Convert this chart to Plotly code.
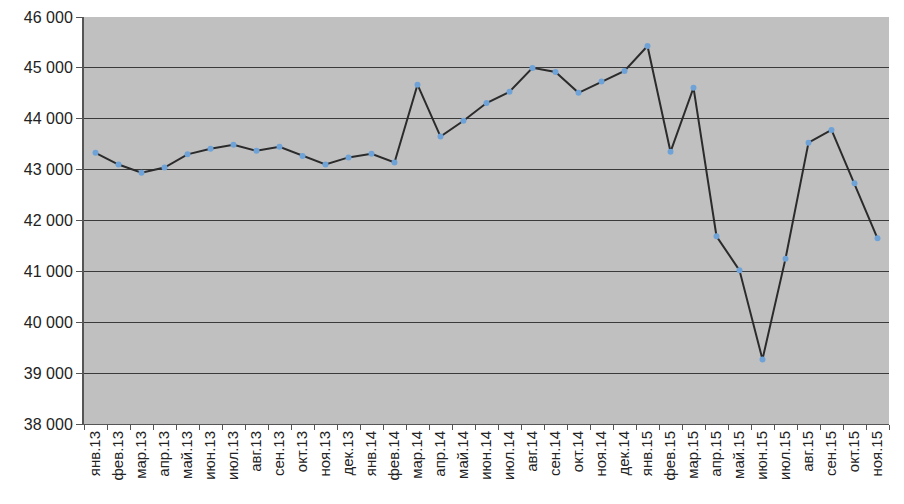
import plotly.graph_objects as go

months = ["янв.13", "фев.13", "мар.13", "апр.13", "май.13", "июн.13", "июл.13", "авг.13",
          "сен.13", "окт.13", "ноя.13", "дек.13", "янв.14", "фев.14", "мар.14", "апр.14",
          "май.14", "июн.14", "июл.14", "авг.14", "сен.14", "окт.14", "ноя.14", "дек.14",
          "янв.15", "фев.15", "мар.15", "апр.15", "май.15", "июн.15", "июл.15", "авг.15",
          "сен.15", "окт.15", "ноя.15"]
values = [43330, 43100, 42940, 43040, 43300, 43410, 43490, 43370,
          43450, 43270, 43100, 43240, 43310, 43140, 44670, 43650,
          43960, 44310, 44530, 45000, 44920, 44510, 44730, 44940,
          45430, 43350, 44610, 41690, 41020, 39270, 41250, 43530,
          43780, 42730, 41650]
y_ticks = [38000, 39000, 40000, 41000, 42000, 43000, 44000, 45000, 46000]
y_labels = [f"{v:,}".replace(",", " ") for v in y_ticks]

fig = go.Figure()
fig.add_trace(go.Scatter(
    x=months, y=values, mode="lines+markers",
    line=dict(color="#2b2b2b", width=2),
    marker=dict(color="#6fa3d8", size=6),
    showlegend=False,
))

# page body has an 8px margin, so the figure is sized to fit inside the window
fig.update_layout(
    width=888, height=488,
    margin=dict(l=76, r=7, t=9, b=72),
    paper_bgcolor="white",
    plot_bgcolor="#c0c0c0",
    font=dict(family="Liberation Sans, Arial, sans-serif", color="#222222"),
)
fig.update_xaxes(
    type="category", tickangle=-90, tickfont=dict(size=15),
    tickson="boundaries", ticks="outside", ticklen=5, tickcolor="#555555",
    showgrid=False, showline=True, linecolor="#555555", linewidth=1,
    range=[-0.5, len(months) - 0.5], automargin=False,
)
fig.update_yaxes(
    range=[38000, 46000], tickvals=y_ticks, ticktext=y_labels,
    tickfont=dict(size=16), ticks="outside", ticklen=6, tickcolor="#555555",
    showgrid=True, gridcolor="#3a3a3a", gridwidth=1,
    showline=True, linecolor="#555555", linewidth=2, zeroline=False,
    automargin=False,
)

fig.write_html("out.html")
